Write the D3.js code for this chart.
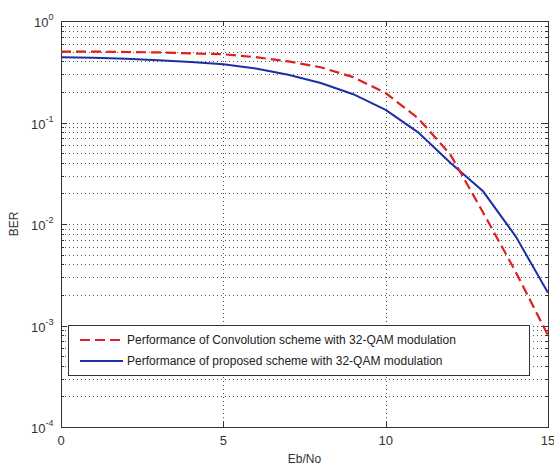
<!DOCTYPE html>
<html>
<head>
<meta charset="utf-8">
<script src="https://cdn.jsdelivr.net/npm/d3@7"></script>
<style>
  body { margin: 0; background: #fff; }
  svg { font-family: "Liberation Sans", Arial, sans-serif; }
</style>
</head>
<body>
<svg width="554" height="468"></svg>
<script>
// Eb/No 轴上的取值
var ebno = [0, 1, 2, 3, 4, 5, 6, 7, 8, 9, 10, 11, 12, 13, 14, 15];
// 卷积编码方案的误码率
var berConv = [0.50, 0.50, 0.495, 0.49, 0.48, 0.47, 0.44, 0.40, 0.35, 0.28, 0.195, 0.11, 0.048, 0.013, 0.0034, 0.0008];
// 所提方案的误码率
var berProp = [0.44, 0.435, 0.425, 0.41, 0.395, 0.375, 0.34, 0.295, 0.245, 0.19, 0.133, 0.08, 0.04, 0.021, 0.0076, 0.0021];
var xTicks = [0, 5, 10, 15];
var yExps = [0, -1, -2, -3, -4];
var legendLabels = ["Performance of Convolution scheme with 32-QAM modulation",
                    "Performance of proposed scheme with 32-QAM modulation"];

var svg = d3.select("svg");
// 注意：不能用 top 作为全局变量名（window.top 只读）
var pLeft = 61, pRight = 548, pTop = 21, pBottom = 427;

var x = d3.scaleLinear().domain([0, 15]).range([pLeft, pRight]);
var y = d3.scaleLog().domain([1e-4, 1]).range([pBottom, pTop]);

// 网格线（虚点）
var grid = svg.append("g").attr("stroke", "#555").attr("stroke-width", 1)
    .attr("stroke-dasharray", "1,3").attr("shape-rendering", "crispEdges");
grid.selectAll(".vx")
    .data(xTicks.slice(1, -1))
    .enter().append("line")
    .attr("x1", function(d) { return Math.round(x(d)) + 0.5; })
    .attr("x2", function(d) { return Math.round(x(d)) + 0.5; })
    .attr("y1", pTop).attr("y2", pBottom);

var yGrid = [];
for (var e = -4; e < 0; e++) {
    for (var m = 1; m <= 9; m++) {
        if (e === -4 && m === 1) continue;
        yGrid.push({ v: m * Math.pow(10, e), major: m === 1 });
    }
}
grid.selectAll(".hy")
    .data(yGrid)
    .enter().append("line")
    .attr("x1", pLeft).attr("x2", pRight)
    .attr("y1", function(d) { return Math.round(y(d.v)) + 0.5; })
    .attr("y2", function(d) { return Math.round(y(d.v)) + 0.5; });

// 刻度线（朝内）
var ticks = svg.append("g").attr("stroke", "#333").attr("stroke-width", 1).attr("shape-rendering", "crispEdges");
ticks.selectAll(".tx")
    .data(xTicks)
    .enter().append("path")
    .attr("d", function(d) {
        var px = Math.round(x(d)) + 0.5;
        return "M" + px + "," + pBottom + "v-5M" + px + "," + pTop + "v5";
    });
ticks.selectAll(".ty")
    .data(yGrid)
    .enter().append("path")
    .attr("d", function(d) {
        var py = Math.round(y(d.v)) + 0.5;
        var len = d.major ? 6 : 3;
        return "M" + pLeft + "," + py + "h" + len + "M" + pRight + "," + py + "h-" + len;
    });

// 坐标框
svg.append("rect")
    .attr("x", pLeft + 0.5).attr("y", pTop + 0.5)
    .attr("width", pRight - pLeft).attr("height", pBottom - pTop)
    .attr("fill", "none").attr("stroke", "#333").attr("stroke-width", 1)
    .attr("shape-rendering", "crispEdges");

// 曲线
var line = d3.line()
    .x(function(d) { return x(d[0]); })
    .y(function(d) { return y(d[1]); });

svg.append("path")
    .datum(d3.zip(ebno, berProp))
    .attr("d", line)
    .attr("fill", "none")
    .attr("stroke", "#1c2fa6")
    .attr("stroke-width", 2);

svg.append("path")
    .datum(d3.zip(ebno, berConv))
    .attr("d", line)
    .attr("fill", "none")
    .attr("stroke", "#dd2020")
    .attr("stroke-width", 2.2)
    .attr("stroke-dasharray", "10,5");

// x 轴刻度标签
svg.append("g").selectAll("text")
    .data(xTicks)
    .enter().append("text")
    .attr("x", function(d) { return x(d); })
    .attr("y", pBottom + 18)
    .attr("text-anchor", "middle")
    .attr("font-size", 13)
    .attr("fill", "#333")
    .text(function(d) { return d; });

// y 轴刻度标签 10^n
var yl = svg.append("g").selectAll("text")
    .data(yExps)
    .enter().append("text")
    .attr("x", function(d) { return d === 0 ? pLeft - 27 : pLeft - 30; })
    .attr("y", function(d) { return y(Math.pow(10, d)) + 6; })
    .attr("font-size", 13)
    .attr("fill", "#333");
yl.append("tspan").text("10");
yl.append("tspan")
    .attr("dy", -7)
    .attr("font-size", 9)
    .text(function(d) { return d; });

// 轴标题
svg.append("text")
    .attr("x", (pLeft + pRight) / 2)
    .attr("y", 463)
    .attr("text-anchor", "middle")
    .attr("font-size", 12)
    .attr("fill", "#333")
    .text("Eb/No");

svg.append("text")
    .attr("transform", "translate(18," + ((pTop + pBottom) / 2) + ") rotate(-90)")
    .attr("text-anchor", "middle")
    .attr("font-size", 12)
    .attr("fill", "#333")
    .text("BER");

// 图例
var legend = svg.append("g");
legend.append("rect")
    .attr("x", 68.5).attr("y", 325.5)
    .attr("width", 461).attr("height", 50)
    .attr("fill", "#fff").attr("stroke", "#333").attr("stroke-width", 1)
    .attr("shape-rendering", "crispEdges");

var legendStyle = [
    { color: "#dd2020", dash: "10,5", w: 2.2 },
    { color: "#1c2fa6", dash: null, w: 2 }
];
legend.selectAll(".lg")
    .data(legendLabels)
    .enter().append("line")
    .attr("x1", 80).attr("x2", 123)
    .attr("y1", function(d, i) { return 340 + i * 21; })
    .attr("y2", function(d, i) { return 340 + i * 21; })
    .attr("stroke", function(d, i) { return legendStyle[i].color; })
    .attr("stroke-width", function(d, i) { return legendStyle[i].w; })
    .attr("stroke-dasharray", function(d, i) { return legendStyle[i].dash; });

legend.selectAll("text")
    .data(legendLabels)
    .enter().append("text")
    .attr("x", 127)
    .attr("y", function(d, i) { return 344 + i * 21; })
    .attr("font-size", 12)
    .attr("fill", "#222")
    .text(function(d) { return d; });
</script>
</body>
</html>
